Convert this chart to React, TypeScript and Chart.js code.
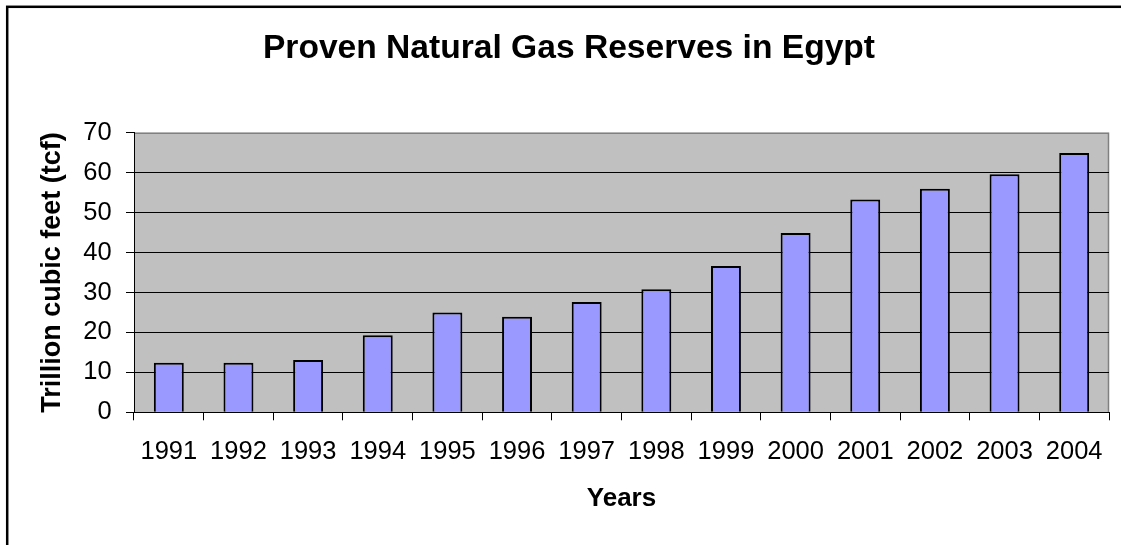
import React, { useEffect, useRef } from "react";
import { Chart, registerables } from "chart.js";

Chart.register(...registerables);

const years = ["1991", "1992", "1993", "1994", "1995", "1996", "1997", "1998", "1999", "2000", "2001", "2002", "2003", "2004"];
const reserves = [12.4, 12.4, 13.1, 19.3, 25.0, 23.9, 27.6, 30.8, 36.6, 44.9, 53.3, 56.0, 59.6, 64.9];
const chartTitle = "Proven Natural Gas Reserves in Egypt";
const xTitle = "Years";
const yTitle = "Trillion cubic feet (tcf)";
const yMin = 0;
const yMax = 70;
const yStep = 10;

const FONT = "'Liberation Sans', Arial, Helvetica, sans-serif";

const plotBgPlugin = {
  id: "plotBg",
  beforeDraw(chart: any) {
    const { ctx, chartArea } = chart;
    const { left, top, right, bottom } = chartArea;
    ctx.save();
    ctx.fillStyle = "#C0C0C0";
    ctx.fillRect(left, top, right - left, bottom - top);
    ctx.strokeStyle = "#808080";
    ctx.lineWidth = 1.5;
    ctx.beginPath();
    ctx.moveTo(left, top + 0.5);
    ctx.lineTo(right - 0.5, top + 0.5);
    ctx.lineTo(right - 0.5, bottom);
    ctx.stroke();
    ctx.restore();
  },
  afterDraw(chart: any) {
    const { ctx } = chart;
    ctx.save();
    ctx.strokeStyle = "#000000";
    ctx.lineWidth = 2.5;
    ctx.strokeRect(7.2, 6.8, 1300, 800);
    ctx.restore();
  },
};

export default function App() {
  const canvasRef = useRef<HTMLCanvasElement | null>(null);

  useEffect(() => {
    if (!canvasRef.current) return;
    const chart = new Chart(canvasRef.current, {
      type: "bar",
      data: {
        labels: years,
        datasets: [
          {
            label: "Reserves",
            data: reserves,
            backgroundColor: "#9999FF",
            borderColor: "#000000",
            borderWidth: 2,
            barPercentage: 0.43,
            categoryPercentage: 1,
          },
        ],
      },
      options: {
        responsive: false,
        animation: false,
        layout: { padding: { left: 29, right: 12, top: 0, bottom: 0 } },
        plugins: {
          legend: { display: false },
          tooltip: { enabled: false },
          title: {
            display: true,
            text: chartTitle,
            color: "#000000",
            font: { family: FONT, size: 33.6, weight: "bold" },
            padding: { top: 28.5, bottom: 63.9 },
          },
        },
        scales: {
          x: {
            offset: true,
            grid: {
              display: true,
              offset: true,
              drawOnChartArea: false,
              drawTicks: true,
              tickLength: 8,
              color: "#000000",
              tickColor: "#000000",
            },
            border: { display: true, color: "#000000", width: 1 },
            ticks: {
              color: "#000000",
              font: { family: FONT, size: 25.5 },
              padding: 16.4,
              maxRotation: 0,
              autoSkip: false,
            },
            title: {
              display: true,
              text: xTitle,
              color: "#000000",
              font: { family: FONT, size: 26, weight: "bold" },
              padding: { top: 0, bottom: 30.1 },
            },
            afterFit(scale: any) {
              scale.height = 132.7;
            },
          },
          y: {
            min: yMin,
            max: yMax,
            grid: {
              color: (c: any) => (c.tick && c.tick.value === yMax ? "rgba(0,0,0,0)" : "#000000"),
              tickColor: "#000000",
              tickLength: 8,
              lineWidth: 1,
            },
            border: { display: true, color: "#000000", width: 1 },
            ticks: {
              stepSize: yStep,
              color: "#000000",
              font: { family: FONT, size: 25.5 },
              padding: 14.3,
            },
            title: {
              display: true,
              text: yTitle,
              color: "#000000",
              font: { family: FONT, size: 27, weight: "bold" },
              padding: { top: 7.8, bottom: 0 },
            },
            afterFit(scale: any) {
              scale.width = 105;
            },
          },
        },
      },
      plugins: [plotBgPlugin],
    });
    return () => chart.destroy();
  }, []);

  return (
    <div style={{ position: "absolute", left: 0, top: 0, width: 1121, height: 545, background: "#ffffff" }}>
      <canvas ref={canvasRef} width={1121} height={545} />
    </div>
  );
}
